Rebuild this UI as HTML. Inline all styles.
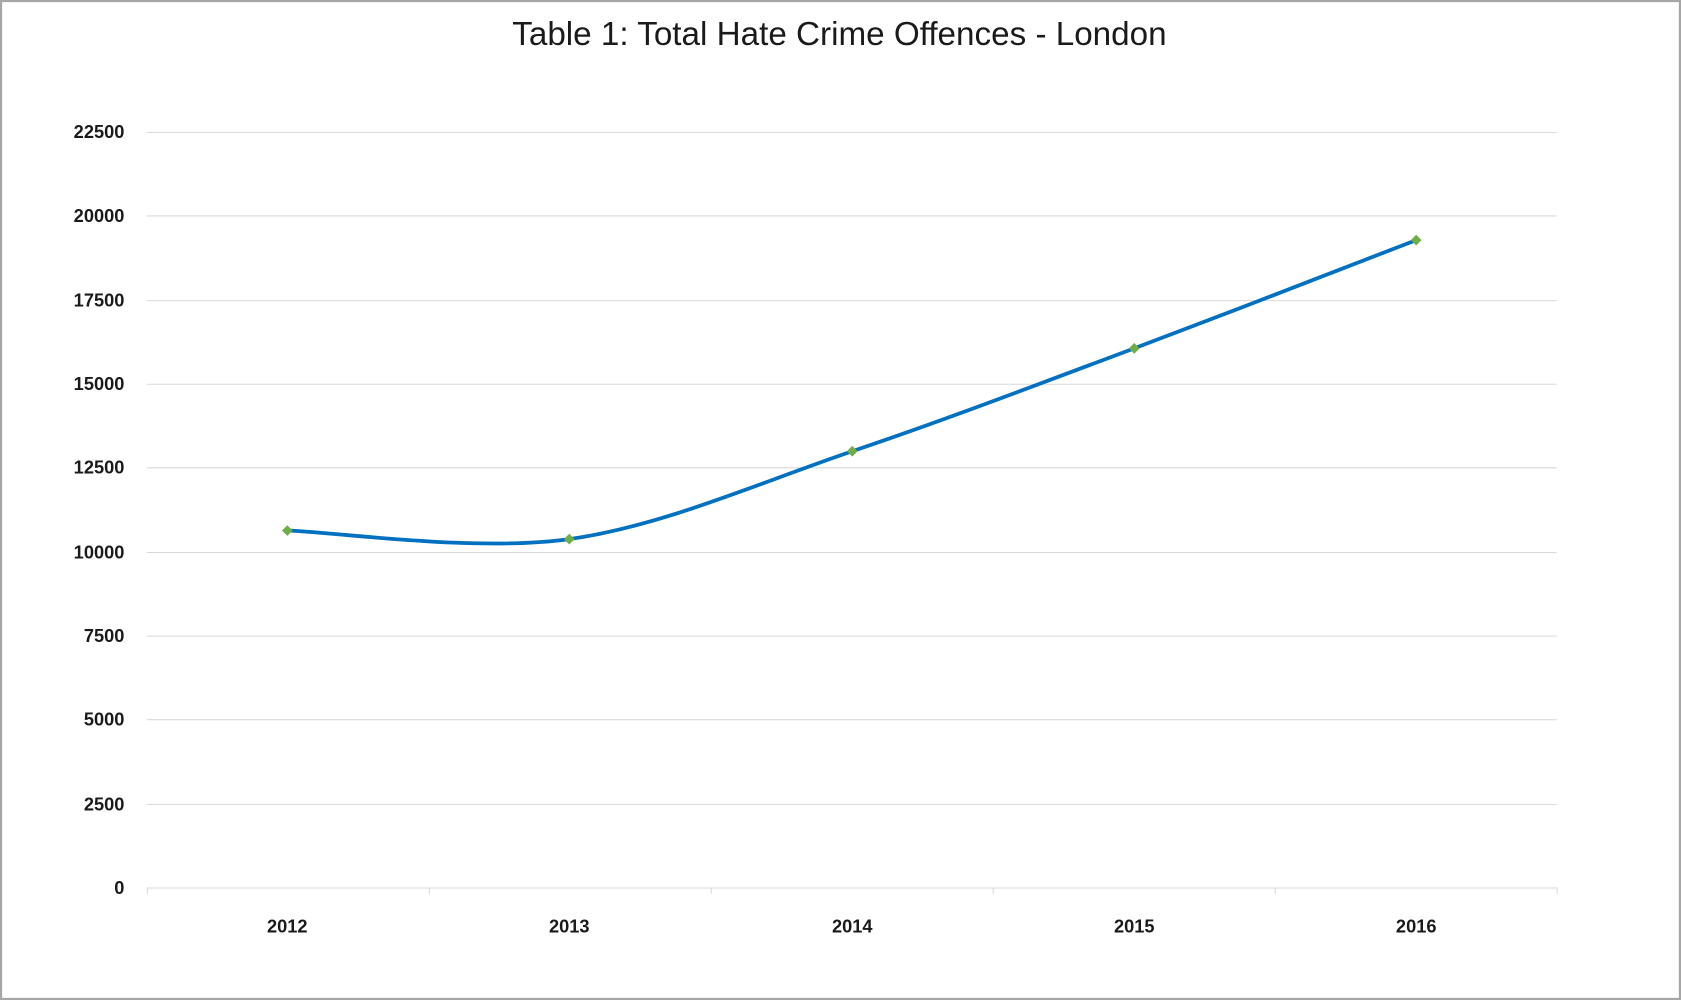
<!DOCTYPE html>
<html><head><meta charset="utf-8"><style>
html,body{margin:0;padding:0;background:#fff;}
svg{display:block;}
</style></head><body>
<svg width="1681" height="1000" viewBox="0 0 1568 933" preserveAspectRatio="none" xmlns="http://www.w3.org/2000/svg">
<rect x="1" y="1" width="1566" height="931" fill="#fff" stroke="#a6a6a6" stroke-width="2"/>
<text x="783" y="42" text-anchor="middle" font-family="Liberation Sans, sans-serif" font-size="31" fill="#1a1a1a">Table 1: Total Hate Crime Offences - London</text>
<g stroke="#d9d9d9" stroke-width="1">
<line x1="137" x2="1452" y1="123.5" y2="123.5"/>
<line x1="137" x2="1452" y1="201.5" y2="201.5"/>
<line x1="137" x2="1452" y1="280.5" y2="280.5"/>
<line x1="137" x2="1452" y1="358.5" y2="358.5"/>
<line x1="137" x2="1452" y1="436.5" y2="436.5"/>
<line x1="137" x2="1452" y1="515.5" y2="515.5"/>
<line x1="137" x2="1452" y1="593.5" y2="593.5"/>
<line x1="137" x2="1452" y1="671.5" y2="671.5"/>
<line x1="137" x2="1452" y1="750.5" y2="750.5"/>
<line x1="137" x2="1452" y1="828.5" y2="828.5"/>
<line x1="137.5" x2="137.5" y1="828" y2="834"/>
<line x1="400.5" x2="400.5" y1="828" y2="834"/>
<line x1="663.5" x2="663.5" y1="828" y2="834"/>
<line x1="926.5" x2="926.5" y1="828" y2="834"/>
<line x1="1189.5" x2="1189.5" y1="828" y2="834"/>
<line x1="1452.5" x2="1452.5" y1="828" y2="834"/>
</g>
<g font-family="Liberation Sans, sans-serif" font-size="17" font-weight="bold" fill="#1a1a1a" text-anchor="end">
<text x="116" y="129">22500</text>
<text x="116" y="207">20000</text>
<text x="116" y="286">17500</text>
<text x="116" y="364">15000</text>
<text x="116" y="442">12500</text>
<text x="116" y="521">10000</text>
<text x="116" y="599">7500</text>
<text x="116" y="677">5000</text>
<text x="116" y="756">2500</text>
<text x="116" y="834">0</text>
</g>
<g font-family="Liberation Sans, sans-serif" font-size="17" font-weight="bold" fill="#1a1a1a" text-anchor="middle">
<text x="268" y="870">2012</text>
<text x="531" y="870">2013</text>
<text x="795" y="870">2014</text>
<text x="1058" y="870">2015</text>
<text x="1321" y="870">2016</text>
</g>
<path d="M268,495 C311.8,496.3 443.2,515.3 531,503 C618.8,490.7 707.2,450.7 795,421 C882.8,391.3 970.3,357.8 1058,325 C1145.7,292.2 1277.2,240.8 1321,224" fill="none" stroke="#0070c0" stroke-width="3.5" stroke-linecap="round"/>
<g fill="#70ad47">
<path d="M268,490 L273,495 L268,500 L263,495Z"/>
<path d="M531,498 L536,503 L531,508 L526,503Z"/>
<path d="M795,416 L800,421 L795,426 L790,421Z"/>
<path d="M1058,320 L1063,325 L1058,330 L1053,325Z"/>
<path d="M1321,219 L1326,224 L1321,229 L1316,224Z"/>
</g>
</svg>
</body></html>
